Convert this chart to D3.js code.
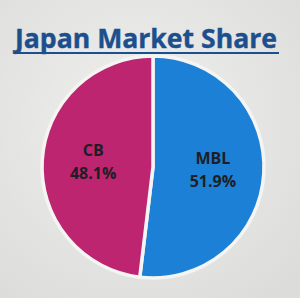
<!DOCTYPE html>
<html>
<head>
<meta charset="utf-8">
<script src="https://cdn.jsdelivr.net/npm/d3@7"></script>
<style>
  html, body { margin: 0; padding: 0; background: #e6e6e4; }
  svg { display: block; }
</style>
</head>
<body>
<div id="chart"></div>
<script>
const categories = ["MBL", "CB"];
const shares = [51.9, 48.1];
const sliceColors = ["#1b80d6", "#bd2570"];
const chartTitle = "Japan Market Share";

const width = 300;
const height = 298;
const cx = 153;
const cy = 167;
const radius = 111;

const slices = categories.map((c, i) => ({ label: c, value: shares[i], color: sliceColors[i] }));

const svg = d3.select("#chart").append("svg")
    .attr("width", width)
    .attr("height", height);

const defs = svg.append("defs");
const bg = defs.append("radialGradient")
    .attr("id", "paper")
    .attr("cx", "45%").attr("cy", "40%").attr("r", "75%");
bg.append("stop").attr("offset", "0%").attr("stop-color", "#efefed");
bg.append("stop").attr("offset", "100%").attr("stop-color", "#dcdcda");

svg.append("rect")
    .attr("width", width)
    .attr("height", height)
    .attr("fill", "url(#paper)");

// title with underline
svg.append("text")
    .attr("x", 146)
    .attr("y", 48)
    .attr("text-anchor", "middle")
    .attr("font-family", "'Open Sans', sans-serif")
    .attr("font-weight", "bold")
    .attr("font-size", 27)
    .attr("fill", "#1c4f8e")
    .attr("stroke", "#1c4f8e")
    .attr("stroke-width", 0.4)
    .attr("textLength", 262)
    .attr("lengthAdjust", "spacingAndGlyphs")
    .text(chartTitle);

svg.append("line")
    .attr("x1", 14).attr("x2", 279)
    .attr("y1", 53).attr("y2", 53)
    .attr("stroke", "#1c4f8e")
    .attr("stroke-width", 2);

const g = svg.append("g")
    .attr("transform", `translate(${cx}, ${cy})`);

const pie = d3.pie().value(d => d.value).sort(null);

const arc = d3.arc()
    .innerRadius(0)
    .outerRadius(radius);

const labelArc = d3.arc()
    .innerRadius(radius * 0.54)
    .outerRadius(radius * 0.54);

const arcs = g.selectAll(".arc")
    .data(pie(slices))
    .enter()
    .append("g")
    .attr("class", "arc");

arcs.append("path")
    .attr("d", arc)
    .attr("fill", d => d.data.color)
    .attr("stroke", "#f4f4f2")
    .attr("stroke-width", 3.5);

const labels = arcs.append("text")
    .attr("transform", d => {
        const [x, y] = labelArc.centroid(d);
        return `translate(${x}, ${y})`;
    })
    .attr("text-anchor", "middle")
    .attr("font-family", "'Open Sans', sans-serif")
    .attr("font-weight", "bold")
    .attr("font-size", 16)
    .attr("fill", "#1e1e24");

labels.append("tspan")
    .attr("x", 0)
    .attr("y", -7)
    .text(d => d.data.label);

labels.append("tspan")
    .attr("x", 0)
    .attr("y", 16)
    .text(d => d.data.value.toFixed(1) + "%");
</script>
</body>
</html>
